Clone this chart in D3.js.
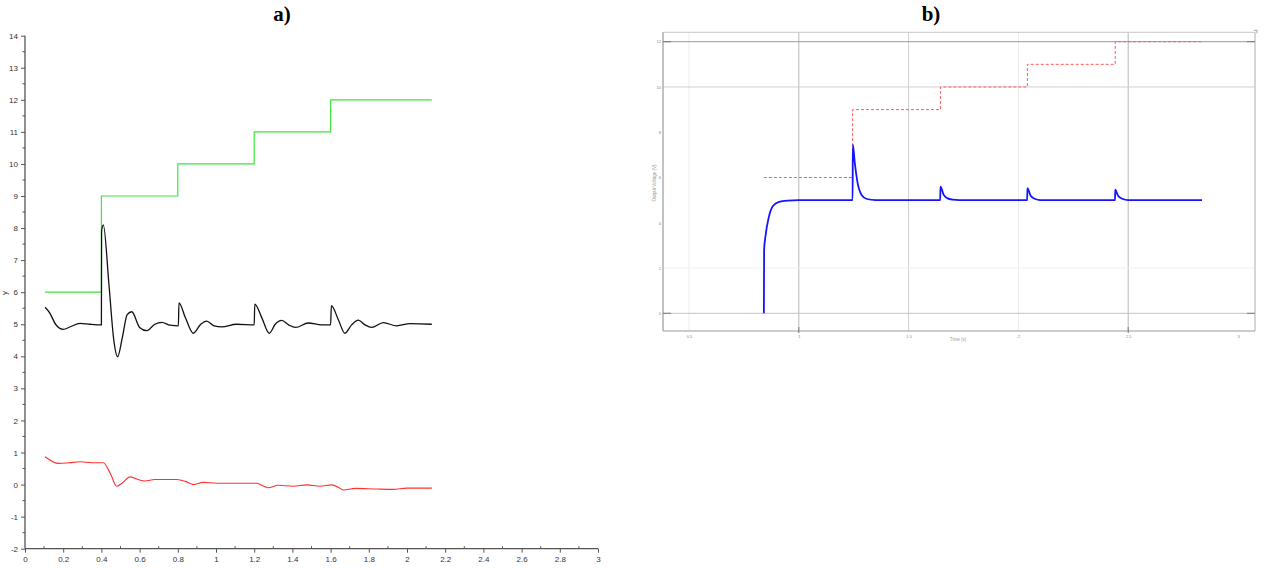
<!DOCTYPE html>
<html><head><meta charset="utf-8">
<script src="https://cdn.jsdelivr.net/npm/d3@7"></script>
<style>body{margin:0;background:#fff;}svg{display:block;}</style>
</head><body>
<svg id="c" width="1267" height="568"></svg>
<script>
// ---- Chart a) data ----
const aXTicks = [0,0.2,0.4,0.6,0.8,1,1.2,1.4,1.6,1.8,2,2.2,2.4,2.6,2.8,3];
const aYTicks = [-2,-1,0,1,2,3,4,5,6,7,8,9,10,11,12,13,14];
const aSetpoint = [[0.105,6],[0.4,6],[0.4,9],[0.8,9],[0.8,10],[1.2,10],[1.2,11],[1.6,11],[1.6,12],[2.13,12]];
const aOutput = [[0.105,5.53],[0.13,5.35],[0.16,5.0],[0.2,4.84],[0.24,4.93],[0.288,5.03],[0.34,5.0],[0.4,4.98],[0.401,7.9],[0.41,8.1],[0.44,6.2],[0.465,4.5],[0.485,3.99],[0.51,4.6],[0.535,5.3],[0.559,5.39],[0.6,4.9],[0.637,4.8],[0.68,5.0],[0.716,5.06],[0.76,4.97],[0.803,4.95],[0.806,5.67],[0.84,5.2],[0.881,4.72],[0.92,5.0],[0.951,5.1],[0.99,4.95],[1.03,4.92],[1.107,5.0],[1.2,4.98],[1.203,5.63],[1.24,5.2],[1.279,4.72],[1.31,5.0],[1.344,5.12],[1.38,4.98],[1.417,4.9],[1.483,5.04],[1.553,4.98],[1.6,4.98],[1.604,5.58],[1.64,5.15],[1.675,4.72],[1.71,4.98],[1.745,5.13],[1.78,4.98],[1.815,4.9],[1.876,5.05],[1.946,4.95],[2.016,5.02],[2.13,5.0]];
const aError = [[0.105,0.87],[0.175,0.66],[0.23,0.68],[0.288,0.71],[0.35,0.68],[0.41,0.68],[0.45,0.3],[0.48,-0.05],[0.51,0.05],[0.55,0.24],[0.6,0.14],[0.628,0.11],[0.68,0.16],[0.794,0.16],[0.84,0.1],[0.881,0.0],[0.934,0.07],[1.003,0.04],[1.213,0.04],[1.25,-0.05],[1.274,-0.1],[1.326,-0.02],[1.405,-0.05],[1.475,-0.01],[1.545,-0.05],[1.606,-0.01],[1.64,-0.08],[1.667,-0.17],[1.728,-0.12],[1.841,-0.14],[1.928,-0.15],[1.998,-0.11],[2.13,-0.11]];

// ---- Chart b) data ----
const bXTicks = [0.5,1,1.5,2,2.5,3];
const bYTicks = [0,2,4,6,8,10,12];
const bReference = [[0.841,6],[1.245,6],[1.245,9],[1.645,9],[1.645,10],[2.041,10],[2.041,11],[2.441,11],[2.441,12],[2.836,12]];
const bOutput = [[0.841,0],[0.842,2.8],[0.848,3.39],[0.864,4.27],[0.883,4.75],[0.91,4.92],[0.95,4.98],[1.0,5.0],[1.245,5.0],[1.246,7.45],[1.255,6.64],[1.268,5.75],[1.286,5.23],[1.31,5.05],[1.35,5.0],[1.644,5.0],[1.645,5.6],[1.66,5.23],[1.675,5.09],[1.7,5.02],[1.73,5.0],[2.04,5.0],[2.041,5.53],[2.056,5.19],[2.074,5.06],[2.1,5.0],[2.44,5.0],[2.441,5.46],[2.454,5.19],[2.473,5.06],[2.5,5.0],[2.836,5.0]];

const svg = d3.select("#c");
const fmt = d => String(d);

// ===== Chart a) =====
const ax = d3.scaleLinear().domain([0,3]).range([25,598]);
const ay = d3.scaleLinear().domain([-2,14]).range([548.7,35.7]);
const ga = svg.append("g");
const axisCol = "#555";
const aXMinor = d3.range(0,31).map(i=>i/10).filter(v=>Math.round(v*10)%2===1);
const aYMinor = d3.range(-2,14,0.5).filter(v=>v%1!==0);
ga.selectAll(".xm").data(aXMinor).join("line")
  .attr("x1",d=>ax(d)).attr("x2",d=>ax(d)).attr("y1",ay(-2)).attr("y2",ay(-2)-2.5)
  .attr("stroke",axisCol).attr("stroke-width",1);
ga.selectAll(".ym").data(aYMinor).join("line")
  .attr("x1",25).attr("x2",22.5).attr("y1",d=>ay(d)).attr("y2",d=>ay(d))
  .attr("stroke",axisCol).attr("stroke-width",1);
const xAxA = d3.axisBottom(ax).tickValues(aXTicks).tickSize(4).tickPadding(4).tickFormat(fmt);
const gx = ga.append("g").attr("transform",`translate(0,${ay(-2)})`).call(xAxA);
const yAxA = d3.axisLeft(ay).tickValues(aYTicks).tickSize(4).tickPadding(3).tickFormat(fmt);
const gy = ga.append("g").attr("transform","translate(25,0)").call(yAxA);
[gx,gy].forEach(g=>{
  g.select(".domain").attr("stroke",axisCol).attr("stroke-width",1.3);
  g.selectAll(".tick line").attr("stroke",axisCol);
  g.selectAll("text").attr("fill","#333").style("font-family","Liberation Sans, Arial, sans-serif").style("font-size","8px");
});
gx.select(".domain").attr("d",`M${ax(0)},0H${ax(3)}`);
gy.select(".domain").attr("d",`M0,${ay(-2)}V${ay(14)}`);
ga.append("text").attr("transform","translate(7,293) rotate(-90)").attr("text-anchor","middle")
  .attr("fill","#333").style("font-family","Liberation Sans, Arial, sans-serif").style("font-size","8px").text("y");

const la = d3.line().x(d=>ax(d[0])).y(d=>ay(d[1]));
const lac = d3.line().x(d=>ax(d[0])).y(d=>ay(d[1])).curve(d3.curveMonotoneX);
ga.append("path").datum(aSetpoint).attr("d",la).attr("fill","none").attr("stroke","#3be63b").attr("stroke-width",1.2);
ga.append("path").datum(aError).attr("d",lac).attr("fill","none").attr("stroke","#ff3030").attr("stroke-width",1.1);
ga.append("path").datum(aOutput).attr("d",lac).attr("fill","none").attr("stroke","#111").attr("stroke-width",1.3);

svg.append("text").attr("x",282).attr("y",21).attr("text-anchor","middle")
  .style("font-family","Liberation Serif, Times New Roman, serif").style("font-size","21px").style("font-weight","bold").text("a)");
svg.append("text").attr("x",931).attr("y",21).attr("text-anchor","middle")
  .style("font-family","Liberation Serif, Times New Roman, serif").style("font-size","21px").style("font-weight","bold").text("b)");

// ===== Chart b) =====
const L=663, R=1255, T=32.3, B=331;
const bx = d3.scaleLinear().domain([0.5,3]).range([689,1238]);
const by = d3.scaleLinear().domain([0,12]).range([313.3,41.7]);
const gb = svg.append("g");
gb.append("rect").attr("x",L).attr("y",T).attr("width",R-L).attr("height",B-T).attr("fill","#fff");
const vCol = {0.5:"#ececec",1:"#b8b8b8",1.5:"#cfcfcf",2:"#ececec",2.5:"#b8b8b8",3:"none"};
gb.selectAll(".vg").data(bXTicks).join("line")
  .attr("x1",d=>bx(d)).attr("x2",d=>bx(d)).attr("y1",T).attr("y2",B)
  .attr("stroke",d=>vCol[d]).attr("stroke-width",1);
const hCol = {0:"#c4c4c4",2:"#f0f0f0",4:"none",6:"none",8:"none",10:"#cfcfcf",12:"#9a9a9a"};
gb.selectAll(".hg").data(bYTicks).join("line")
  .attr("x1",L).attr("x2",R).attr("y1",d=>by(d)).attr("y2",d=>by(d))
  .attr("stroke",d=>hCol[d]).attr("stroke-width",1);
gb.append("line").attr("x1",L).attr("x2",R).attr("y1",T).attr("y2",T).attr("stroke","#c8c8c8");
gb.append("line").attr("x1",R).attr("x2",R).attr("y1",T).attr("y2",B).attr("stroke","#c8c8c8").attr("stroke-width",1.5);
gb.append("line").attr("x1",L).attr("x2",L).attr("y1",T).attr("y2",B).attr("stroke","#999").attr("stroke-width",1.2);
gb.append("line").attr("x1",L).attr("x2",R).attr("y1",B).attr("y2",B).attr("stroke","#999").attr("stroke-width",1.2);
const tinyFont = "Liberation Sans, Arial, sans-serif";
const yAxB = d3.axisLeft(by).tickValues(bYTicks).tickSize(0).tickPadding(2).tickFormat(fmt);
const gby = gb.append("g").attr("transform",`translate(${L},0)`).call(yAxB);
gby.select(".domain").remove();
gby.selectAll("text").attr("fill","#888").style("font-family",tinyFont).style("font-size","4px");
gb.selectAll(".ytk").data([0,12]).join("line").attr("x1",L).attr("x2",L+8).attr("y1",d=>by(d)).attr("y2",d=>by(d)).attr("stroke","#777");
gb.selectAll(".ytk2").data([0,12]).join("line").attr("x1",R-8).attr("x2",R).attr("y1",d=>by(d)).attr("y2",d=>by(d)).attr("stroke","#777");
const xAxB = d3.axisBottom(bx).tickValues(bXTicks).tickSize(0).tickPadding(4).tickFormat(fmt);
const gbx = gb.append("g").attr("transform",`translate(0,${B})`).call(xAxB);
gbx.select(".domain").remove();
gbx.selectAll("text").attr("fill","#888").style("font-family",tinyFont).style("font-size","4px");
gb.selectAll(".xtk").data([1,2.5]).join("line").attr("x1",d=>bx(d)).attr("x2",d=>bx(d)).attr("y1",B-4).attr("y2",B+2).attr("stroke","#777");
gb.append("text").attr("x",958).attr("y",341).attr("text-anchor","middle").attr("fill","#999")
  .style("font-family",tinyFont).style("font-size","4.5px").text("Time (s)");
gb.append("text").attr("transform","translate(656,183) rotate(-90)").attr("text-anchor","middle").attr("fill","#999")
  .style("font-family",tinyFont).style("font-size","4.5px").text("Output Voltage (V)");
gb.append("path").attr("d",`M${R-1},${T-2}h3v3`).attr("fill","none").attr("stroke","#888").attr("stroke-width",0.8);

const lb = d3.line().x(d=>bx(d[0])).y(d=>by(d[1]));
const lbc = d3.line().x(d=>bx(d[0])).y(d=>by(d[1])).curve(d3.curveMonotoneX);
gb.append("path").datum(bReference).attr("d",lb).attr("fill","none").attr("stroke","#ff5c5c")
  .attr("stroke-width",1).attr("stroke-dasharray","3,2");
gb.append("path").datum(bOutput).attr("d",lbc).attr("fill","none").attr("stroke","#1414ff").attr("stroke-width",1.8);
</script>
</body></html>
